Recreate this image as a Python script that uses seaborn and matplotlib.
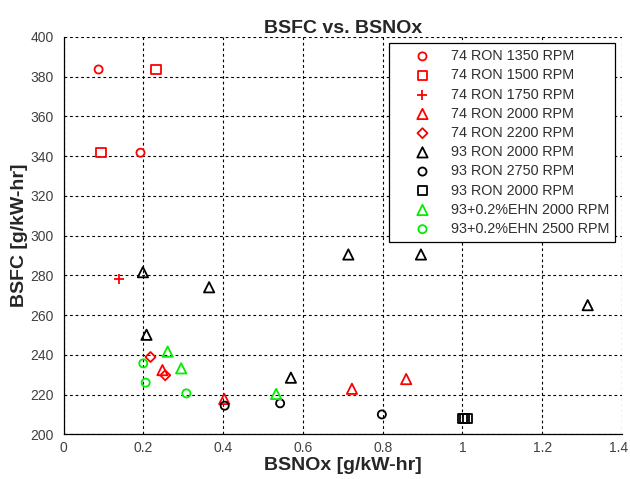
import matplotlib
matplotlib.use("Agg")
import matplotlib.pyplot as plt
import matplotlib.transforms as mtransforms
import seaborn as sns
import pandas as pd

# BSNOx [g/kW-hr] and BSFC [g/kW-hr] per test condition
labels = [
    "74 RON 1350 RPM", "74 RON 1500 RPM", "74 RON 1750 RPM", "74 RON 2000 RPM",
    "74 RON 2200 RPM", "93 RON 2000 RPM", "93 RON 2750 RPM", "93 RON 2000 RPM ",
    "93+0.2%EHN 2000 RPM", "93+0.2%EHN 2500 RPM",
]
bsnox = [
    [0.088, 0.193],
    [0.232, 0.094],
    [0.140],
    [0.403, 0.248, 0.723, 0.859],
    [0.218, 0.255],
    [0.199, 0.365, 0.208, 0.714, 0.896, 0.570, 1.314],
    [0.404, 0.543, 0.798],
    [1.000, 1.006, 1.012],
    [0.261, 0.295, 0.533],
    [0.200, 0.206, 0.308],
]
bsfc = [
    [383.6, 341.7],
    [383.6, 341.7],
    [278.0],
    [217.8, 232.3, 222.9, 227.8],
    [238.9, 229.7],
    [281.6, 274.0, 250.1, 290.5, 290.5, 228.5, 265.0],
    [214.4, 215.6, 210.0],
    [208.0, 208.0, 208.0],
    [241.6, 233.2, 220.3],
    [235.7, 226.0, 220.6],
]
xticks = [0, 0.2, 0.4, 0.6, 0.8, 1.0, 1.2, 1.4]
xticklabels = ["0", "0.2", "0.4", "0.6", "0.8", "1", "1.2", "1.4"]
yticks = list(range(200, 401, 20))

markers = ["o", "s", "+", "^", "D", "^", "o", "s", "^", "o"]
colors = ["#ff0000"] * 5 + ["#000000"] * 3 + ["#00ee00"] * 2
sizes = [34, 44, 45, 55, 26, 55, 34, 44, 55, 34]

sns.set_style("white")
plt.rcParams["font.family"] = ["Liberation Sans", "DejaVu Sans"]

fig = plt.figure(figsize=(6.3, 4.79), dpi=100)
ax = fig.add_axes([0.1008, 0.0933, 0.8865, 0.8297])

for lab, xs, ys, m, c, s in zip(labels, bsnox, bsfc, markers, colors, sizes):
    df = pd.DataFrame({"BSNOx": xs, "BSFC": ys})
    if m == "+":
        sns.scatterplot(data=df, x="BSNOx", y="BSFC", ax=ax, marker=m,
                        color=c, s=s, linewidth=1.3, label=lab, zorder=3)
    else:
        sns.scatterplot(data=df, x="BSNOx", y="BSFC", ax=ax, marker=m,
                        facecolor="none", edgecolor=c, s=s, linewidth=1.3,
                        label=lab, zorder=3)

ax.set_xlim(0, 1.4)
ax.set_ylim(200, 400)
ax.set_xticks(xticks)
ax.set_xticklabels(xticklabels)
ax.set_yticks(yticks)
ax.grid(True, color="black", linestyle=(0, (2.5, 2.5)), linewidth=0.8)
ax.tick_params(labelsize=10, labelcolor="#404040", color="black")
ax.tick_params(axis="x", direction="in", length=5, pad=5)
ax.tick_params(axis="y", direction="out", length=3, pad=4)
ax.spines["top"].set_visible(False)
ax.spines["right"].set_visible(False)
for sp in ("left", "bottom"):
    ax.spines[sp].set_color("black")
    ax.spines[sp].set_linewidth(0.9)

# keep the last x tick label inside the figure edge
last = ax.get_xticklabels()[-1]
last.set_transform(last.get_transform() +
                   mtransforms.ScaledTranslation(-3 / 100, 0, fig.dpi_scale_trans))

ax.set_title("BSFC vs. BSNOx", fontsize=14, fontweight="bold", pad=3)
ax.set_xlabel("BSNOx [g/kW-hr]", fontsize=14, fontweight="bold", labelpad=1)
ax.set_ylabel("BSFC [g/kW-hr]", fontsize=14, fontweight="bold", labelpad=2)

leg = ax.legend(loc="upper right", fontsize=10.4, frameon=True, fancybox=False,
                framealpha=1, edgecolor="black", borderpad=0.4,
                labelspacing=0.36, handlelength=3.8, handletextpad=0.1,
                borderaxespad=0.45)
leg.get_frame().set_linewidth(0.9)
for t in leg.get_texts():
    t.set_color("#303030")

fig.savefig("out.png", dpi=100)
